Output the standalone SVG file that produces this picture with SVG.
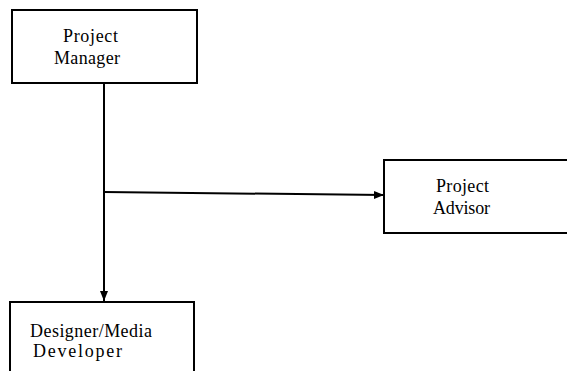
<svg xmlns="http://www.w3.org/2000/svg" width="567" height="371" viewBox="0 0 567 371">
<style>
.box{fill:#fff;stroke:#000;stroke-width:2}
.t{font-family:"Liberation Serif","Times New Roman",serif;font-size:18px;fill:#000}
.c{fill:none;stroke:#000;stroke-width:2}
</style>
<defs>
<marker id="ah" viewBox="0 0 10 10" refX="10" refY="5" markerWidth="5" markerHeight="5" orient="auto" markerUnits="strokeWidth">
<path d="M0,1 L10,5 L0,9 Z" fill="#000"/>
</marker>
</defs>
<rect width="567" height="371" fill="#fff"/>
<g id="connectors">
<line class="c" x1="104" y1="83" x2="104" y2="301" marker-end="url(#ah)"/>
<line class="c" x1="104" y1="192" x2="384" y2="195" marker-end="url(#ah)"/>
</g>
<g id="project-manager">
<rect class="box" x="12" y="10" width="185" height="73"/>
<text class="t" x="63" y="42" textLength="55">Project</text>
<text class="t" x="54" y="64" textLength="66">Manager</text>
</g>
<g id="project-advisor">
<rect class="box" x="384" y="160" width="190" height="73"/>
<text class="t" x="436" y="192" textLength="53">Project</text>
<text class="t" x="433" y="214" textLength="57">Advisor</text>
</g>
<g id="designer">
<rect class="box" x="10" y="302" width="184" height="80"/>
<text class="t" x="30" y="337" textLength="122">Designer/Media</text>
<text class="t" x="33" y="357" textLength="89">Developer</text>
</g>
</svg>
